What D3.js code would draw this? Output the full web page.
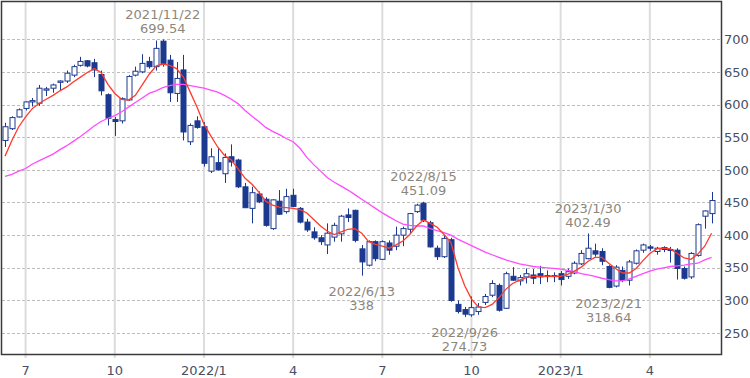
<!DOCTYPE html>
<html>
<head>
<meta charset="utf-8">
<script src="https://cdn.jsdelivr.net/npm/d3@7"></script>
<style>
  body { margin: 0; background: #fff; }
  svg text { font-family: "DejaVu Sans", Verdana, sans-serif; }
</style>
</head>
<body>
<svg id="chart" width="750" height="378"></svg>
<script>
// weekly candles, week of 2021/6/14 .. week of 2023/6/5
const firstWeek = new Date(2021, 5, 14);
const lastWeek = new Date(2023, 5, 5);

const opens = [
  545, 563, 581, 594, 604, 602, 622, 625, 634, 636,
  645, 660, 667, 664, 646, 615, 577, 575, 607, 645,
  650, 666, 658, 697, 668, 617, 653, 543, 575, 566,
  498, 511, 494, 520, 515, 474, 441, 463, 455, 410,
  452, 436, 461, 441, 420, 405, 396, 385, 397, 402,
  431, 438, 379, 354, 390, 363, 388, 383, 400, 409,
  436, 449, 419, 380, 367, 393, 294, 286, 278, 283,
  297, 308, 323, 288, 337, 330, 336, 339, 341, 338,
  337, 341, 337, 342, 356, 364, 376, 375, 352, 322,
  346, 331, 357, 377, 382, 375, 381, 378, 377, 349,
  336, 369, 429, 433
];
const highs = [
  572, 582, 594, 605, 610, 630, 627, 632, 637, 652,
  661, 673, 668, 670, 652, 617, 581, 611, 645, 658,
  677, 673, 698, 699.54, 676, 665, 676, 571, 582, 573,
  533, 533, 525, 539, 517, 480, 474, 467, 458, 455,
  469, 471, 471, 443, 425, 412, 400, 418, 419, 431,
  441, 439, 385, 392, 392, 392, 392, 413, 413, 434,
  448, 451.09, 422, 384, 399, 396, 300, 290, 306, 296,
  310, 331, 326, 344, 351, 339, 349, 348, 353, 346,
  343, 345, 349, 360, 377, 402.49, 387, 380, 354, 354,
  352, 362, 378, 387, 385, 382, 383, 382, 380, 352,
  374, 418, 438, 466
];
const lows = [
  535, 561, 580, 591, 597, 598, 613, 618, 622, 633,
  642, 658, 657, 642, 614, 568, 552, 571, 606, 643,
  648, 655, 652, 658, 604, 604, 545, 538, 563, 505,
  495, 499, 480, 505, 472, 442, 418, 449, 413, 408,
  431, 433, 444, 418, 405, 393, 385, 371, 390, 390,
  420, 389, 338, 352, 360, 362, 370, 377, 383, 403,
  434, 420, 381, 362, 365, 298, 280, 274.73, 275, 278,
  293, 305, 283, 287, 330, 323, 326, 325, 325, 328,
  328, 323, 333, 340, 354, 363, 367, 354, 318.64, 320,
  328, 323, 355, 373, 376, 370, 374, 358, 332, 332,
  333, 367, 410, 418
];
const closes = [
  566, 580, 592, 604, 606, 625, 624, 630, 636, 648,
  658, 666, 659, 653, 621, 579, 574, 609, 643, 651,
  663, 658, 686, 663, 618, 640, 558, 568, 565, 510,
  520, 500, 519, 512, 474, 442, 465, 451, 415, 454,
  432, 459, 444, 420, 408, 396, 390, 403, 415, 429,
  427, 392, 359, 390, 364, 390, 377, 400, 410, 433,
  446, 423, 382, 367, 395, 300, 283, 279, 289, 290,
  306, 326, 285, 341, 331, 335, 341, 334, 336, 337,
  338, 332, 344, 357, 372, 380, 371, 360, 320, 351,
  331, 359, 376, 385, 380, 380, 378, 377, 349, 334,
  372, 416, 437, 453
];

// moving averages
const maShort = [
  521, 545, 566, 581, 594, 602, 608, 614, 621, 627,
  635, 642, 649, 655, 649, 631, 617, 608, 607, 614,
  630, 646, 659, 662, 660, 655, 642, 619, 596, 570,
  552, 535, 522, 515, 501, 487, 478, 466, 452, 446,
  443, 442, 441, 439, 434, 424, 414, 406, 401, 405,
  409, 410, 403, 390, 386, 383, 380, 385, 391, 401,
  414, 423, 418, 412, 401, 389, 351, 323, 302, 290,
  289, 294, 304, 317, 326, 331, 335, 337, 337, 337,
  337, 337, 340, 345, 351, 360, 366, 366, 357, 349,
  342, 342, 349, 361, 372, 379, 380, 379, 372, 365,
  363, 371, 383, 403
];
const maLong = [
  490, 493, 498, 502, 509, 514, 519, 524, 531, 537,
  544, 551, 559, 567, 574, 579, 583, 589, 596, 603,
  610, 617, 621, 626, 629, 631, 631, 629, 627, 625,
  622, 619, 614, 608, 601, 591, 582, 574, 565, 559,
  554, 548, 543, 533, 519, 508, 498, 488, 481, 475,
  469, 462, 455, 448, 441, 434, 428, 422, 417, 415,
  414, 414, 410, 407, 404, 400, 394, 389, 384, 379,
  374, 370, 366, 362, 359, 356, 354, 352, 351, 350,
  349, 348, 346, 344, 341, 339, 337, 334, 332, 330,
  330, 333, 337, 341, 345, 348, 350, 352, 353, 354,
  356, 357, 362, 366
];

const priceTicks = [250, 300, 350, 400, 450, 500, 550, 600, 650, 700];
const quarterWeeks = ["2021-07-05", "2021-10-04", "2022-01-03", "2022-04-04",
                      "2022-07-04", "2022-10-03", "2023-01-02", "2023-04-03"];
const quarterLabels = ["7", "10", "2022/1", "4", "7", "10", "2023/1", "4"];

const notes = [
  { week: "2021-11-22", date: "2021/11/22", value: "699.54", side: "top" },
  { week: "2022-06-13", date: "2022/6/13", value: "338", side: "bottom" },
  { week: "2022-08-15", date: "2022/8/15", value: "451.09", side: "top" },
  { week: "2022-09-26", date: "2022/9/26", value: "274.73", side: "bottom" },
  { week: "2023-01-30", date: "2023/1/30", value: "402.49", side: "top" },
  { week: "2023-02-20", date: "2023/2/21", value: "318.64", side: "bottom" }
];

const fmt = d3.timeFormat("%Y-%m-%d");
const weeks = d3.timeMonday.range(firstWeek, d3.timeDay.offset(lastWeek, 1)).map(fmt);

const data = weeks.map((w, i) => ({
  week: w, open: opens[i], high: highs[i], low: lows[i], close: closes[i],
  ma1: maShort[i], ma2: maLong[i]
}));

const plotLeft = 2, plotRight = 721, plotTop = 2, plotBottom = 354;
const navy = "#1c3990";

const svg = d3.select("#chart");

const x = d3.scaleBand()
  .domain(weeks)
  .range([1.6, 715])
  .padding(0);
const cx = w => x(w) + x.bandwidth() / 2;

const y = d3.scaleLinear()
  .domain([218, 757])
  .range([plotBottom, plotTop]);

// horizontal dashed grid
svg.append("g")
  .selectAll("line")
  .data(priceTicks)
  .join("line")
  .attr("x1", plotLeft).attr("x2", plotRight)
  .attr("y1", d => Math.round(y(d)) + 0.5)
  .attr("y2", d => Math.round(y(d)) + 0.5)
  .attr("stroke", "#bdbdbd")
  .attr("stroke-dasharray", "3,2");

// x axis with vertical grid lines
const xAxis = d3.axisBottom(x)
  .tickValues(quarterWeeks)
  .tickFormat((d, i) => quarterLabels[i])
  .tickSizeInner(-(plotBottom + 4 - plotTop))
  .tickSizeOuter(0)
  .tickPadding(8);

const gx = svg.append("g")
  .attr("transform", `translate(0,${plotBottom + 4})`)
  .call(xAxis);
gx.select(".domain").remove();
gx.selectAll(".tick line")
  .attr("stroke", "#dcdcdc")
  .attr("stroke-width", 2);
gx.selectAll(".tick text")
  .attr("fill", "#465066")
  .style("font-size", "13px");

// right price axis
const yAxis = d3.axisRight(y)
  .tickValues(priceTicks)
  .tickSizeInner(0)
  .tickSizeOuter(0)
  .tickPadding(3);

const gy = svg.append("g")
  .attr("transform", `translate(${plotRight},0)`)
  .call(yAxis);
gy.select(".domain").remove();
gy.selectAll(".tick text")
  .attr("fill", "#465066")
  .style("font-size", "13px");

// candles
const bodyW = 5;
const candles = svg.append("g");

candles.selectAll("line")
  .data(data)
  .join("line")
  .attr("x1", d => Math.round(cx(d.week)) + 0.5)
  .attr("x2", d => Math.round(cx(d.week)) + 0.5)
  .attr("y1", d => y(d.high))
  .attr("y2", d => y(d.low))
  .attr("stroke", navy)
  .attr("stroke-width", 1);

candles.selectAll("rect")
  .data(data)
  .join("rect")
  .attr("x", d => Math.round(cx(d.week)) + 0.5 - bodyW / 2)
  .attr("y", d => y(Math.max(d.open, d.close)))
  .attr("width", bodyW)
  .attr("height", d => Math.max(1, Math.abs(y(d.open) - y(d.close))))
  .attr("fill", d => d.close >= d.open ? "#fff" : navy)
  .attr("stroke", navy)
  .attr("stroke-width", 1);

// moving averages
svg.append("clipPath").attr("id", "plot")
  .append("rect")
  .attr("x", plotLeft).attr("y", plotTop)
  .attr("width", plotRight - plotLeft).attr("height", plotBottom - plotTop);

const lineLong = d3.line()
  .x(d => cx(d.week))
  .y(d => y(d.ma2));
const lineShort = d3.line()
  .x(d => cx(d.week))
  .y(d => y(d.ma1));

svg.append("path")
  .datum(data)
  .attr("clip-path", "url(#plot)")
  .attr("d", lineLong)
  .attr("fill", "none")
  .attr("stroke", "#ff4cff")
  .attr("stroke-width", 1.3);

svg.append("path")
  .datum(data)
  .attr("clip-path", "url(#plot)")
  .attr("d", lineShort)
  .attr("fill", "none")
  .attr("stroke", "#ff3a2e")
  .attr("stroke-width", 1.3);

// frame
svg.append("rect")
  .attr("x", plotLeft - 0.5).attr("y", plotTop - 0.5)
  .attr("width", plotRight - plotLeft + 1).attr("height", plotBottom - plotTop + 1)
  .attr("fill", "none")
  .attr("stroke", "#3a3a3a")
  .attr("stroke-width", 1.5);

// high / low notes
const byWeek = new Map(data.map(d => [d.week, d]));
const noteG = svg.append("g")
  .attr("fill", "#8c877d")
  .attr("text-anchor", "middle")
  .style("font-size", "13px");

notes.forEach(n => {
  const d = byWeek.get(n.week);
  const px = cx(n.week);
  if (n.side === "top") {
    const py = y(d.high);
    noteG.append("text").attr("x", px).attr("y", py - 21).text(n.date);
    noteG.append("text").attr("x", px).attr("y", py - 6.5).text(n.value);
  } else {
    const py = y(d.low);
    noteG.append("text").attr("x", px).attr("y", py + 20).text(n.date);
    noteG.append("text").attr("x", px).attr("y", py + 34).text(n.value);
  }
});
</script>
</body>
</html>
